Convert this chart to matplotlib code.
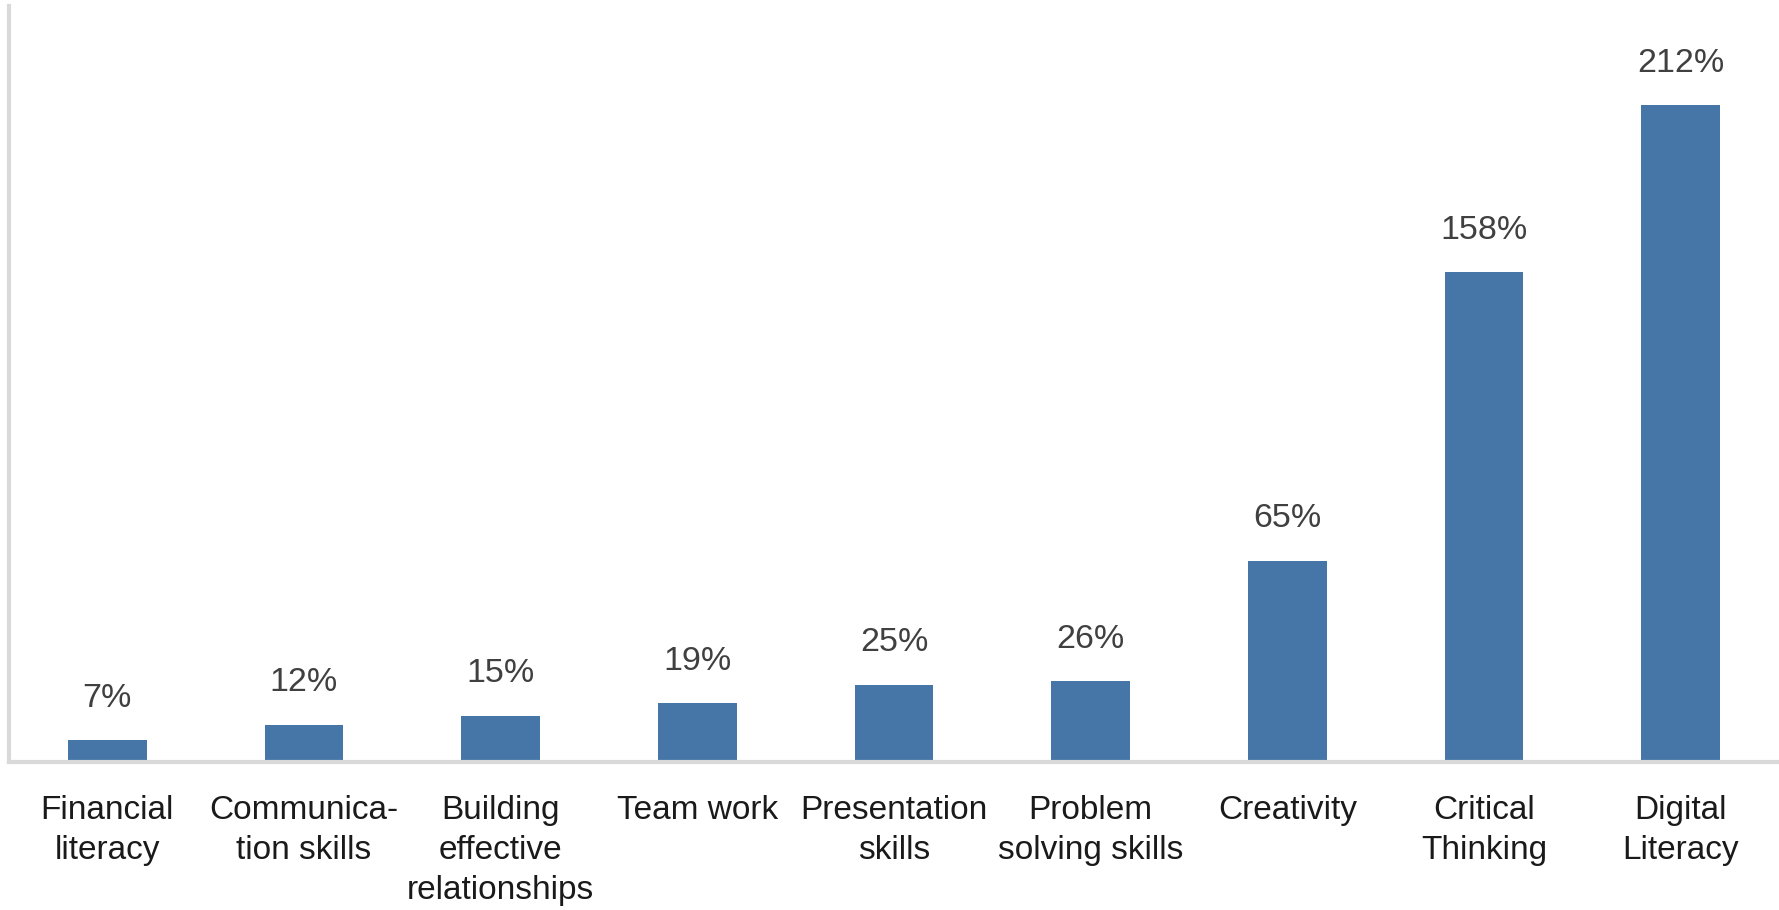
import matplotlib
matplotlib.use("Agg")
import matplotlib.pyplot as plt
import numpy as np

plt.rcParams['font.family'] = ['Liberation Sans', 'DejaVu Sans']

skills = ['Financial\nliteracy', 'Communica-\ntion skills', 'Building\neffective\nrelationships',
          'Team work', 'Presentation\nskills', 'Problem\nsolving skills', 'Creativity',
          'Critical\nThinking', 'Digital\nLiteracy']
growth = [7, 12, 15, 19, 25, 26, 65, 158, 212]

fig = plt.figure(figsize=(17.79, 9.10), dpi=100)
ax = fig.add_axes([9 / 1779, 1 - 762 / 910, 1 - 9 / 1779, (762 - 6) / 910])

index = np.arange(len(skills))
bars = ax.bar(index, growth, 0.4, color='#4676a7')

ax.bar_label(bars, labels=[f'{v}%' for v in growth], padding=19,
             fontsize=24.5, color='#404040')

ax.set_xlim(-0.5, len(skills) - 0.5)
ax.set_ylim(0, 244)
ax.set_xticks(index)
ax.set_xticklabels(skills, fontsize=24, color='#1a1a1a', linespacing=1.37)
ax.tick_params(axis='x', length=0, pad=24)
ax.set_yticks([])

for side in ['top', 'right']:
    ax.spines[side].set_visible(False)
for side in ['left', 'bottom']:
    ax.spines[side].set_color('#d9d9d9')
    ax.spines[side].set_linewidth(3)

fig.savefig('out.png', dpi=100)
